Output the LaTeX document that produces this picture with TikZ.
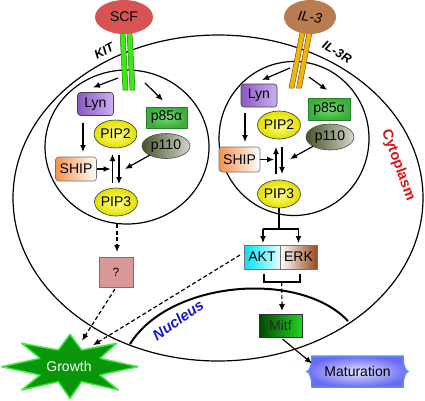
\documentclass[tikz,border=0pt]{standalone}
\usepackage{fontspec}
\setmainfont{Liberation Sans}
\usetikzlibrary{arrows.meta,calc,shapes.geometric,shadings}
\definecolor{scfred}{HTML}{D85454}
\definecolor{ilbrown}{HTML}{B97C50}
\definecolor{kitgreen}{HTML}{3CEB14}
\definecolor{kitdark}{HTML}{1E7A0A}
\definecolor{ilyellow}{HTML}{F2B40A}
\definecolor{ildark}{HTML}{7A5200}
\definecolor{lync1}{HTML}{8A58C4}
\definecolor{lync2}{HTML}{CBB0F0}
\definecolor{shipc}{HTML}{F4924E}
\definecolor{pipin}{HTML}{FFFF8A}
\definecolor{pipout}{HTML}{E2E000}
\definecolor{p85in}{HTML}{74DA74}
\definecolor{p85out}{HTML}{3AAE3A}
\definecolor{p85dark}{HTML}{2A7F2A}
\definecolor{p110a}{HTML}{465628}
\definecolor{p110b}{HTML}{D4D6CC}
\definecolor{aktc}{HTML}{00E2F2}
\definecolor{erkc}{HTML}{9A4A20}
\definecolor{mitfa}{HTML}{004A00}
\definecolor{mitfb}{HTML}{22D422}
\definecolor{qpink}{HTML}{D99898}
\definecolor{stargreen}{HTML}{0A960A}
\definecolor{starglow}{HTML}{44E844}
\definecolor{matin}{HTML}{E2E2FF}
\definecolor{matout}{HTML}{6C6CF2}
\definecolor{matborder}{HTML}{5B8CFF}
\definecolor{nucblue}{HTML}{1A1ACC}
\definecolor{cytred}{HTML}{D81414}
\begin{document}
\begin{tikzpicture}[x=1pt,y=-1pt,
  lbl/.style={font=\fontsize{14}{16}\selectfont, inner sep=0pt, outer sep=0pt},
  arr/.style={line width=1.2pt, -{Latex[length=7pt,width=6pt]}},
  darr/.style={arr, dash pattern=on 4pt off 2.5pt},
  membrane/.style={line width=1.2pt},
  pip/.style={lbl, ellipse, draw=black!80, line width=0.6pt, inner color=pipin, outer color=pipout, minimum width=41pt, minimum height=28pt},
  lynbox/.style={lbl, draw=black!75, line width=0.6pt, rounded corners=3pt, left color=lync1, right color=lync2, minimum width=36pt, minimum height=23pt},
  shipbox/.style={lbl, draw=black!55, line width=0.6pt, rounded corners=3pt, left color=shipc, right color=white, minimum width=41pt, minimum height=24pt},
  p85box/.style={lbl, draw=p85dark, line width=0.8pt, inner color=p85in, outer color=p85out, minimum width=41pt, minimum height=21pt},
  p110ell/.style={lbl, ellipse, draw=black!70, line width=0.6pt, left color=p110a, right color=p110b, minimum width=48pt, minimum height=25pt},
  barkit/.style={draw=kitdark, fill=kitgreen, line width=0.5pt},
  baril/.style={draw=ildark, fill=ilyellow, line width=0.5pt},
  memlabel/.style={font=\fontsize{12.5}{14}\selectfont\bfseries\itshape, inner sep=0pt},
]
\useasboundingbox (0,0) rectangle (425,400);

% membranes
\draw[membrane] (218,198) ellipse [x radius=205, y radius=163];
\draw[membrane] (127,147) ellipse [x radius=82, y radius=77];
\draw[membrane] (294,138.5) ellipse [x radius=75, y radius=77];
\draw[line width=2pt] (130,344) .. controls (170,280) and (300,270) .. (348,321);

% receptors
\path[barkit] (120,32) -- (125,32) -- (128,90) -- (123,90) -- cycle;
\path[barkit] (127,32) -- (132,32) -- (135,90) -- (130,90) -- cycle;
\path[baril] (300.5,30) -- (305.5,30) -- (294,88) -- (289,88) -- cycle;
\path[baril] (307.5,30) -- (312.5,30) -- (301.5,88) -- (296.5,88) -- cycle;

% ligands
\node[lbl, ellipse, fill=scfred, minimum width=58pt, minimum height=34pt] (scf) at (124,17) {SCF};
\node[lbl, ellipse, fill=ilbrown, minimum width=52pt, minimum height=34pt] (il3) at (310,17) {\rotatebox{-8}{\itshape IL-3}};

% membrane labels
\node[memlabel, rotate=28] (kit) at (104,51) {KIT};
\node[memlabel, rotate=-30] (il3r) at (337,52) {IL-3R};
\node[font=\fontsize{15}{17}\selectfont\bfseries\itshape, text=nucblue, rotate=35, inner sep=0pt] (nuc) at (178,320) {Nucleus};
\node[font=\fontsize{14.5}{17}\selectfont\bfseries, text=cytred, rotate=-70, inner sep=0pt] (cyt) at (398,165) {Cytoplasm};

% left compartment
\node[lynbox] (lynA) at (95.5,104) {Lyn};
\node[pip] (pip2A) at (115.5,134) {PIP2};
\node[p85box] (p85A) at (166.5,117.5) {p85α};
\node[p110ell] (p110A) at (166,146) {p110};
\node[shipbox] (shipA) at (76,169) {SHIP};
\node[pip] (pip3A) at (116,202) {PIP3};
\coordinate (kitA) at (118,78);
\coordinate (kitB) at (145,83);
\coordinate (jA) at (125,169);

% right compartment
\node[lynbox] (lynB) at (259,95.5) {Lyn};
\node[pip] (pip2B) at (279,125) {PIP2};
\node[p85box, minimum width=42pt, minimum height=22pt] (p85B) at (329,109) {p85α};
\node[p110ell, minimum height=26pt] (p110B) at (330,137) {p110};
\node[shipbox, minimum height=25pt] (shipB) at (239.5,159.5) {SHIP};
\node[pip] (pip3B) at (279,194) {PIP3};
\coordinate (kitC) at (290,68);
\coordinate (kitD) at (309,77);
\coordinate (jB) at (290,159);

% downstream
\node[lbl, draw=black!55, line width=0.6pt, left color=aktc, right color=white!90!aktc, minimum width=36pt, minimum height=24pt] (akt) at (262,257) {AKT};
\node[lbl, draw=black!55, line width=0.6pt, left color=white, right color=erkc, minimum width=37pt, minimum height=24pt] (erk) at (298.5,257) {ERK};
\node[lbl, draw=black!80, line width=0.6pt, left color=mitfa, right color=mitfb, minimum width=43pt, minimum height=23pt, text=black!85] (mitf) at (280.5,325.5) {Mitf};
\node[lbl, font=\fontsize{12}{14}\selectfont, draw=black!55, line width=0.6pt, fill=qpink, minimum width=34pt, minimum height=30pt] (qbox) at (116,272) {?};

% Maturation plaque
\path[draw=matborder, line width=1.5pt, inner color=matin, outer color=matout]
  (312,356) -- (403,356) .. controls (403,364.6) and (405.2,371.5) .. (408,371.5)
  .. controls (405.2,371.5) and (403,378.4) .. (403,387) -- (312,387)
  .. controls (312,378.4) and (309.8,371.5) .. (307,371.5)
  .. controls (309.8,371.5) and (312,364.6) .. (312,356) -- cycle;
\node[lbl, minimum width=101pt, minimum height=31pt] (mat) at (357.5,371.5) {Maturation};

% Growth star
\path[draw=starglow, line width=1.5pt, fill=stargreen, line join=round]
  (70,334.3) -- (81.7,350) -- (116.7,343.3) -- (100,358.3) -- (138,366.7) -- (100,375)
  -- (118.3,390) -- (81.7,381.7) -- (70,398.5) -- (58.3,381.7) -- (21.7,390) -- (40,375)
  -- (1.5,366.7) -- (40,358.3) -- (21.7,343.3) -- (58.3,350) -- cycle;
\node[lbl, text=white] (growth) at (69,366.7) {Growth};

% arrows left
\draw[arr] (kitA) -- ($(lynA.north)+(-2.5,-5)$);
\draw[arr] (kitB) -- ($(p85A.north)+(-3.5,-6.5)$);
\draw[arr] ($(lynA.south)+(-12.5,7)$) -- ($(shipA.north)+(7,-5)$);
\draw[arr] (shipA.east) -- ($(shipA.east)+(14,0)$);
\draw[arr] ($(pip3A.north)+(-3.5,-5)$) -- ($(pip2A.south)+(-3,6)$);
\draw[arr] ($(pip2A.south)+(3.5,7)$) -- ($(pip3A.north)+(3,-4)$);
\draw[arr] (p110A) -- (jA);

% arrows right
\draw[arr] (kitC) -- ($(lynB.north)+(3,-4)$);
\draw[arr] (kitD) -- ($(p85B.north)+(-2,-8)$);
\draw[arr] ($(lynB.south)+(-14,6)$) -- ($(shipB.north)+(5.5,-5)$);
\draw[arr] (shipB.east) -- ($(shipB.east)+(14,0)$);
\draw[arr] ($(pip3B.north)+(-3,-6)$) -- ($(pip2B.south)+(-3,8)$);
\draw[arr] ($(pip2B.south)+(3,8)$) -- ($(pip3B.north)+(3,-6)$);
\draw[arr] (p110B) -- (jB);

% PIP3 -> AKT / ERK
\draw[line width=1.2pt] (pip3B.south) -- ($(pip3B.south)+(0,21)$) coordinate (br);
\draw[line width=1.2pt] ($(akt.north |- br)+(0.5,0)$) -- (erk.north |- br);
\draw[arr] ($(akt.north |- br)+(1,0)$) -- ($(akt.north)+(1,-2)$);
\draw[arr] (erk.north |- br) -- ($(erk.north)+(0,-2)$);
\draw[line width=1.2pt] ($(akt.south)+(2,5)$) -- ++(0,8) -| ($(erk.south)+(1.5,5)$);
\draw[darr] ($(akt.south)!0.5!(erk.south)+(1.5,13)$) -- ($(mitf.north)+(1.5,-3)$);
\draw[arr] ($(mitf.south)+(2,2)$) -- ($(mat.west)+(5,-8)$);

% dashed arrows to growth
\draw[darr] ($(pip3A.south)+(1,8)$) -- ($(qbox.north)+(1,-5)$);
\draw[darr] ($(qbox.south)+(-1,2)$) -- ($(growth)+(13,-26)$);
\draw[darr] ($(akt.west)+(-4,-2)$) -- ($(growth)+(24,-21.5)$);
\end{tikzpicture}
\end{document}
